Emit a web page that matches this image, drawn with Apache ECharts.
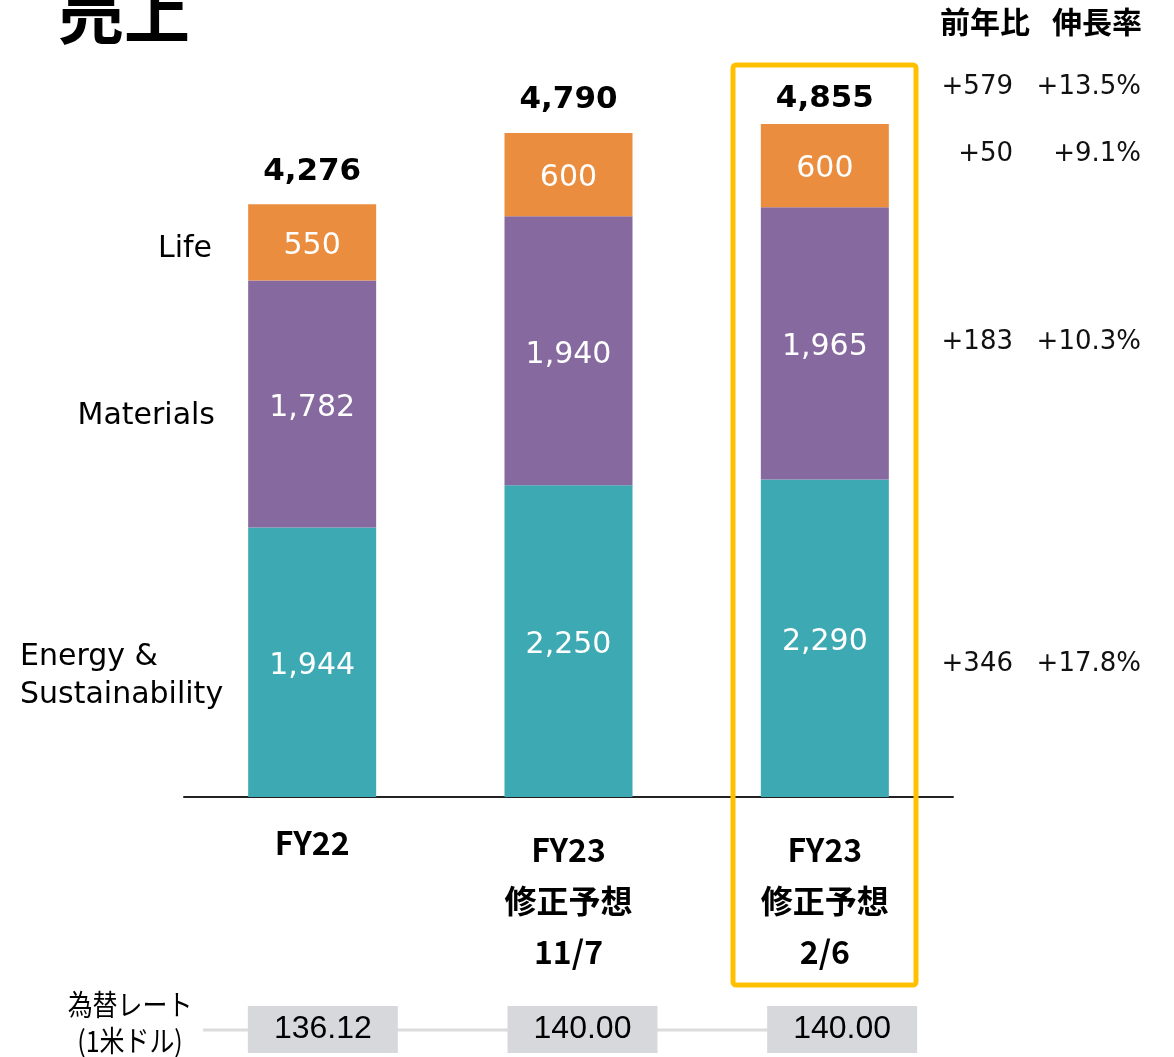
<!DOCTYPE html>
<html>
<head>
<meta charset="utf-8">
<script src="https://cdn.jsdelivr.net/npm/echarts@6/dist/echarts.min.js"></script>
<style>
  html, body { margin: 0; padding: 0; background: #fff; }
  #main { width: 1174px; height: 1057px; }
</style>
</head>
<body>
<div id="main"></div>
<script>
// カテゴリ
var categories = ['FY22', 'FY23\n修正予想\n11/7', 'FY23\n修正予想\n2/6']
// セグメント別売上
var energy = [1944, 2250, 2290]
var materials = [1782, 1940, 1965]
var life = [550, 600, 600]
var totals = [4276, 4790, 4855]
// 前年比・伸長率（合計, Life, Materials, Energy）
var yoyDiff = ['+579', '+50', '+183', '+346']
var growthRate = ['+13.5%', '+9.1%', '+10.3%', '+17.8%']
// 為替レート
var fxRates = ['136.12', '140.00', '140.00']

var numFont = "'DejaVu Sans', Verdana, sans-serif"
var jpFont = "'Noto Sans CJK JP', sans-serif"

function fmt(v) {
  return v.toLocaleString('en-US')
}

var chart = echarts.init(document.getElementById('main'))

var rowY = [87, 154, 342, 664] // 右側の注記の縦位置
var graphics = [
  // タイトル
  { type: 'text', left: 58, top: -20, z: 10,
    style: { text: '売上', font: 'bold 66px ' + jpFont, fill: '#000' } },
  // 右上の見出し
  { type: 'text', x: 940, y: 22,
    style: { text: '前年比', font: 'bold 30px ' + jpFont, fill: '#000', verticalAlign: 'middle' } },
  { type: 'text', x: 1052, y: 22,
    style: { text: '伸長率', font: 'bold 30px ' + jpFont, fill: '#000', verticalAlign: 'middle' } },
  // セグメント名
  { type: 'text', x: 212, y: 249,
    style: { text: 'Life', font: '30px ' + numFont, fill: '#000', align: 'right', verticalAlign: 'middle' } },
  { type: 'text', x: 215, y: 416,
    style: { text: 'Materials', font: '30px ' + numFont, fill: '#000', align: 'right', verticalAlign: 'middle' } },
  { type: 'text', x: 20, y: 676,
    style: { text: 'Energy &\nSustainability', font: '30px ' + numFont, lineHeight: 38, fill: '#000', align: 'left', verticalAlign: 'middle' } },
  // 修正予想の枠
  { type: 'rect', z: 20,
    shape: { x: 733, y: 65, width: 183, height: 920, r: 3 },
    style: { fill: 'none', stroke: '#FFC000', lineWidth: 5 } },
  // 為替レート
  { type: 'text', x: 130, y: 1023, scaleX: 0.86,
    style: { x: 0, y: 0, text: '為替レート\n(1米ドル)', font: '29px ' + jpFont, lineHeight: 36, fill: '#000', align: 'center', verticalAlign: 'middle' } },
  { type: 'line', z: 0,
    shape: { x1: 203, y1: 1030, x2: 800, y2: 1030 },
    style: { stroke: '#DCDCDC', lineWidth: 3 } }
]
yoyDiff.forEach(function (d, i) {
  graphics.push({ type: 'text', x: 1013, y: rowY[i],
    style: { text: d, font: '26px ' + numFont, fill: '#111', align: 'right', verticalAlign: 'middle' } })
  graphics.push({ type: 'text', x: 1141, y: rowY[i],
    style: { text: growthRate[i], font: '26px ' + numFont, fill: '#111', align: 'right', verticalAlign: 'middle' } })
})

var segLabel = {
  show: true,
  position: 'inside',
  offset: [0, 4],
  color: '#fff',
  fontFamily: numFont,
  fontSize: 30,
  formatter: function (p) { return fmt(p.value) }
}

var totalDistance = [17, 18, 10]

var option = {
  animation: false,
  backgroundColor: '#fff',
  graphic: graphics,
  grid: [
    { left: 184, right: 221, top: 104, bottom: 260 },
    { left: 193, width: 779, top: 1006, height: 47 }
  ],
  xAxis: [
    {
      type: 'category',
      data: categories,
      axisLine: { lineStyle: { color: '#222', width: 2 } },
      axisTick: { show: false },
      axisLabel: {
        margin: 27,
        color: '#000',
        fontFamily: jpFont,
        fontWeight: 'bold',
        fontSize: 32,
        lineHeight: 51,
        formatter: function (v, i) {
          return i === 0 ? '{a|' + v + '}' : v
        },
        rich: {
          a: { fontFamily: jpFont, fontWeight: 'bold', fontSize: 32, lineHeight: 37, color: '#000' }
        }
      }
    },
    { type: 'category', gridIndex: 1, data: categories, show: false }
  ],
  yAxis: [
    { type: 'value', min: 0, max: 5000, show: false },
    { type: 'value', gridIndex: 1, min: 0, max: 2, show: false }
  ],
  series: [
    {
      name: 'Energy & Sustainability',
      type: 'bar',
      stack: 'sales',
      barWidth: 128,
      itemStyle: { color: '#3DA9B3' },
      label: segLabel,
      data: energy
    },
    {
      name: 'Materials',
      type: 'bar',
      stack: 'sales',
      itemStyle: { color: '#86699F' },
      label: segLabel,
      data: materials
    },
    {
      name: 'Life',
      type: 'bar',
      stack: 'sales',
      itemStyle: { color: '#EB8D3F' },
      label: segLabel,
      data: life
    },
    {
      // 合計ラベル用
      name: '合計',
      type: 'bar',
      stack: 'sales',
      itemStyle: { color: 'transparent' },
      label: {
        show: true,
        position: 'top',
        color: '#000',
        fontFamily: numFont,
        fontWeight: 'bold',
        fontSize: 31,
        formatter: function (p) { return fmt(totals[p.dataIndex]) }
      },
      data: totals.map(function (t, i) {
        return { value: 0, label: { distance: totalDistance[i] } }
      })
    },
    {
      name: '為替レート',
      type: 'scatter',
      xAxisIndex: 1,
      yAxisIndex: 1,
      symbol: 'rect',
      symbolSize: [150, 47],
      itemStyle: { color: '#D6D8DB', opacity: 1 },
      label: {
        show: true,
        position: 'inside',
        color: '#000',
        fontFamily: "'Liberation Sans', Arial, sans-serif",
        fontSize: 32,
        formatter: function (p) { return fxRates[p.dataIndex] }
      },
      data: fxRates.map(function () { return 1 })
    }
  ]
}
option && chart.setOption(option)
</script>
</body>
</html>
